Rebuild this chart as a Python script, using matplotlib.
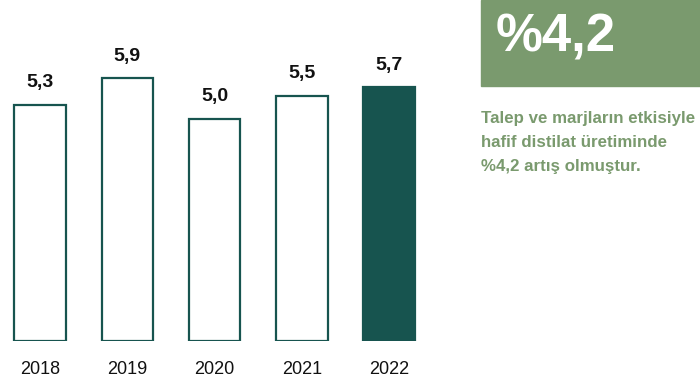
import matplotlib.pyplot as plt
from matplotlib.patches import Rectangle

years = ['2018', '2019', '2020', '2021', '2022']
values = [5.3, 5.9, 5.0, 5.5, 5.7]
value_labels = ['5,3', '5,9', '5,0', '5,5', '5,7']
note_lines = ['Talep ve marjların etkisiyle', 'hafif distilat üretiminde',
              '%4,2 artış olmuştur.']

dark = '#17544f'
green = '#7a9a6e'
sans = ['Liberation Sans', 'DejaVu Sans']

W, H = 700, 385
fig = plt.figure(figsize=(W / 100, H / 100), dpi=100)

# axes in pixel terms: bar spacing ~87.3 px, baseline at y=341
step = 87.3
left_px, right_px = 0, 450
bottom_px = 341
ax = fig.add_axes([left_px / W, (H - bottom_px) / H, (right_px - left_px) / W, bottom_px / H])
ax.set_xlim(-40 / step, (right_px - 40) / step)
ax.set_ylim(0, bottom_px / 44.5)
ax.axis('off')

for i, v in enumerate(values):
    last = i == len(values) - 1
    ax.bar(i, v, width=0.59, color=dark if last else 'white',
           edgecolor=dark, linewidth=1.6)
    ax.text(i, v + 0.4, value_labels[i], ha='center', va='baseline',
            fontsize=14, fontweight='bold', family=sans, color='#111111')
    ax.text(i, -0.74, years[i], ha='center', va='baseline', fontsize=13,
            family=sans, color='#111111', clip_on=False)

# highlight box on the right
fig.patches.append(Rectangle((481 / W, (H - 86) / H), (W - 481) / W, 86 / H,
                             transform=fig.transFigure, color=green, zorder=0))
fig.text(496 / W, (H - 52) / H, '%4,2', color='white', fontsize=38,
         fontweight='bold', family=sans, va='baseline', ha='left')
for k, line in enumerate(note_lines):
    fig.text(481 / W, (H - 123 - 24 * k) / H, line, color=green, fontsize=12.2,
             fontweight='bold', family=sans, va='baseline', ha='left')

fig.savefig('out.png', dpi=100)
